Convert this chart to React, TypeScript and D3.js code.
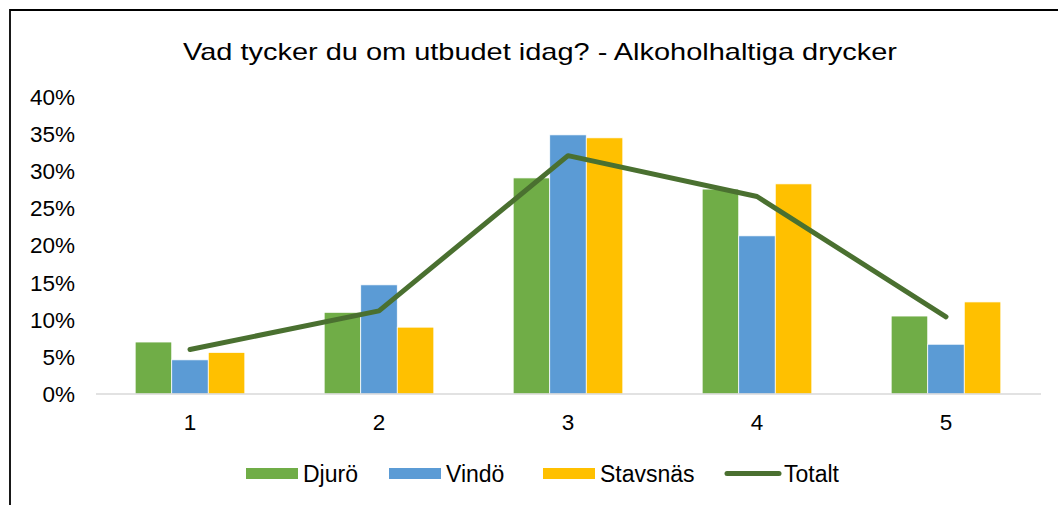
import * as d3 from "d3";

// data (percent)
const categories = ["1", "2", "3", "4", "5"];
const seriesNames = ["Djurö", "Vindö", "Stavsnäs"];
const djuro = [7.0, 11.0, 29.1, 27.6, 10.5];
const vindo = [4.6, 14.7, 34.9, 21.3, 6.7];
const stavsnas = [5.6, 9.0, 34.5, 28.3, 12.4];
const totalt = [6.0, 11.2, 32.1, 26.6, 10.4];
const yTicks = [0, 5, 10, 15, 20, 25, 30, 35, 40];

const title = "Vad tycker du om utbudet idag? - Alkoholhaltiga drycker";
const colors = ["#70AD47", "#5B9BD5", "#FFC000"];
const lineColor = "#4A7030";
const font = "'Liberation Sans', Arial, sans-serif";

const W = 1058;
const H = 505;

export default function App() {
  const barSeries = [djuro, vindo, stavsnas];

  // scales
  const x = d3.scaleBand<string>().domain(categories).range([95.5, 1040.5]).paddingInner(0.42).paddingOuter(0.21);
  const xs = d3.scaleBand<string>().domain(seriesNames).range([0, x.bandwidth()]);
  const y = d3.scaleLinear().domain([0, 40]).range([394, 97]);

  const line = d3
    .line<number>()
    .x((_, i) => (x(categories[i]) as number) + x.bandwidth() / 2)
    .y((d) => y(d));

  // legend layout
  const legend = [
    { name: "Djurö", kind: "bar", color: colors[0], x: 246 },
    { name: "Vindö", kind: "bar", color: colors[1], x: 389 },
    { name: "Stavsnäs", kind: "bar", color: colors[2], x: 543 },
    { name: "Totalt", kind: "line", color: lineColor, x: 727 },
  ];

  return (
    <svg width={W} height={H} style={{ position: "absolute", left: 0, top: 0, background: "#fff" }} fontFamily={font}>
      <rect x={0} y={0} width={W} height={H} fill="#fff" />
      {/* chart frame (right/bottom run off the picture) */}
      <path d={`M10,${H + 5} V10 H${W + 5}`} fill="none" stroke="#000" strokeWidth={1.8} />

      <text x={540} y={60} textAnchor="middle" fontSize={24} textLength={714} lengthAdjust="spacingAndGlyphs" fill="#000">
        {title}
      </text>

      {/* y tick labels */}
      {yTicks.map((t) => (
        <text key={t} x={75} y={y(t)} dy="0.35em" textAnchor="end" fontSize={22.5} fill="#000">
          {t + "%"}
        </text>
      ))}

      {/* bars */}
      {barSeries.map((vals, si) =>
        vals.map((v, ci) => (
          <rect
            key={si + "-" + ci}
            x={(x(categories[ci]) as number) + (xs(seriesNames[si]) as number)}
            y={y(v)}
            width={xs.bandwidth()}
            height={y(0) - y(v)}
            fill={colors[si]}
            stroke="#fff"
            strokeWidth={0.75}
          />
        ))
      )}

      {/* x axis */}
      <line x1={96} x2={1041} y1={y(0)} y2={y(0)} stroke="#D9D9D9" strokeWidth={1.5} />
      {categories.map((c) => (
        <text key={c} x={(x(c) as number) + x.bandwidth() / 2} y={430} textAnchor="middle" fontSize={22.5} fill="#000">
          {c}
        </text>
      ))}

      {/* total line */}
      <path d={line(totalt) as string} fill="none" stroke={lineColor} strokeWidth={5} strokeLinecap="round" strokeLinejoin="round" />

      {/* legend */}
      {legend.map((l) => (
        <g key={l.name}>
          {l.kind === "bar" ? (
            <rect x={l.x} y={468} width={52} height={11} fill={l.color} />
          ) : (
            <line x1={l.x} x2={l.x + 52} y1={473.5} y2={473.5} stroke={l.color} strokeWidth={5} strokeLinecap="round" />
          )}
          <text x={l.x + 57} y={481.5} fontSize={23} fill="#000">
            {l.name}
          </text>
        </g>
      ))}
    </svg>
  );
}
